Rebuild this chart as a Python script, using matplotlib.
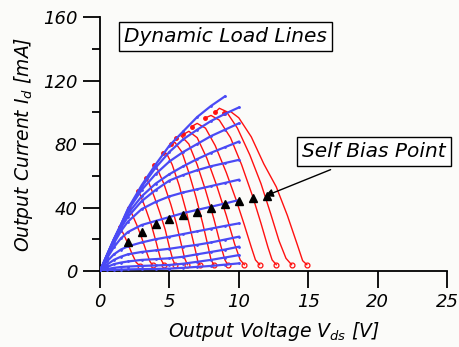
import numpy as np
import matplotlib
matplotlib.use('Agg')
import matplotlib.pyplot as plt

# font setup (handwriting-ish italic look)
plt.rcParams['font.family'] = ['DejaVu Sans']
plt.rcParams['font.style'] = 'italic'
plt.rcParams['mathtext.fontset'] = 'custom'
plt.rcParams['mathtext.it'] = 'DejaVu Sans:italic'
plt.rcParams['mathtext.rm'] = 'DejaVu Sans:italic'

# ---- data ----
# blue I-V curves, Id [mA] at shared Vds grid [V]
blue_v = [0, 0.5, 1, 1.5, 2, 3, 4, 5, 6, 7, 8, 9, 10]
blue_i = [
    [0, 10, 20, 29, 39, 54, 67, 79, 88, 97, 104, 110, np.nan],
    [0, 10, 20, 29, 38.5, 53, 65, 75, 83, 89, 94.5, 99, 103],
    [0, 10, 20, 29, 38, 51, 61, 69, 75, 80, 85, 89, 93],
    [0, 10, 19.5, 28, 36, 47, 55, 61, 66, 70.5, 74.5, 78, 81.5],
    [0, 9.5, 19, 27, 34, 44, 51, 57, 60.5, 63.5, 66, 68, 70],
    [0, 9, 17.5, 25, 31, 39, 43.5, 47, 49.5, 51.5, 53.5, 55.5, 57.5],
    [0, 8, 15, 20.5, 24.5, 29, 31.5, 34, 36.5, 38.5, 40.5, 42.5, 44.7],
    [0, 6, 10.5, 13.5, 15.5, 18, 20, 21.6, 23.3, 25, 26.7, 28.4, 30],
    [0, 4, 7, 9, 10.5, 12, 13, 14, 15.3, 16.5, 18, 19.8, 21.6],
    [0, 2.5, 4.3, 5.3, 6, 7, 7.5, 8, 9, 10.5, 12, 13.5, 15.3],
    [0, 1.2, 2, 2.5, 2.8, 3.2, 3.5, 3.8, 4.6, 5.8, 7, 8.5, 10],
    [0, 0.4, 0.7, 0.9, 1, 1.2, 1.3, 1.5, 2, 2.6, 3.2, 4, 4.8],
]

# red dynamic load lines (Vds, Id)
red_v = [
    [1.42, 1.6, 1.95, 2.3, 2.6, 2.9],
    [2.1, 2.3, 2.65, 3.0, 3.35, 3.6, 3.8],
    [2.75, 2.95, 3.3, 3.7, 4.05, 4.35, 4.6],
    [3.3, 3.5, 3.9, 4.3, 4.7, 5.0, 5.25, 5.4],
    [3.9, 4.1, 4.6, 5.1, 5.5, 5.85, 6.1, 6.3],
    [4.55, 4.8, 5.2, 5.7, 6.2, 6.6, 6.9, 7.05, 7.2],
    [5.1, 5.4, 5.9, 6.4, 6.9, 7.4, 7.8, 8.0, 8.2],
    [5.5, 5.8, 6.4, 7.0, 7.6, 8.2, 8.7, 9.0, 9.2],
    [6.0, 6.4, 7.0, 7.7, 8.4, 9.1, 9.7, 10.1, 10.4],
    [6.6, 7.0, 7.6, 8.3, 9.1, 9.8, 10.4, 10.9, 11.2, 11.5],
    [7.6, 8.0, 8.6, 9.4, 10.2, 11.0, 11.6, 12.1, 12.4, 12.7],
    [8.3, 8.6, 9.1, 9.9, 10.8, 11.6, 12.3, 12.9, 13.4, 13.8],
    [8.9, 9.4, 10.0, 10.9, 11.8, 12.7, 13.5, 14.2, 14.6, 14.9],
]
red_i = [
    [27.5, 25, 18.5, 11, 5.5, 3],
    [39.5, 36, 29, 21, 12, 6, 3.5],
    [50.5, 47, 39, 29, 18, 8, 4],
    [58.5, 56, 47, 37, 26, 15, 7, 4],
    [66.5, 65, 55, 42, 30, 17, 8, 4],
    [74.5, 74, 67, 54, 38, 23, 12, 6, 4],
    [80, 81, 75, 62, 47, 30, 15, 7, 4],
    [84, 85.5, 80, 67, 51, 33, 16, 7, 4],
    [86, 88, 84, 71, 54, 35, 17, 7, 4],
    [91, 93, 90, 79, 62, 45, 29, 15, 7, 4],
    [96.5, 98, 95, 84, 67, 47, 30, 15, 7, 4],
    [100, 102.5, 100.5, 90, 73, 55, 36, 19, 8, 4],
    [99.5, 100.5, 96.5, 84.5, 67.5, 53, 35, 17, 6.5, 4],
]

# self bias points
bias_v = [2, 3, 4, 5, 6, 7, 8, 9, 10, 11, 12]
bias_i = [18, 24.8, 29.6, 32.6, 35.3, 37.4, 40, 42, 44.3, 45.8, 47.2]

# ---- plot ----
fig = plt.figure(figsize=(4.6, 3.47), dpi=100)
fig.patch.set_facecolor('#fbfbf9')
ax = fig.add_axes([0.2174, 0.219, 0.7543, 0.732])
ax.set_facecolor('none')

for v, i in zip(red_v, red_i):
    ax.plot(v, i, color='#ff1010', lw=1.0, zorder=2)
    ax.plot(v[0], i[0], 'o', color='#ff1010', ms=2.5, zorder=2)
    ax.plot(v[-1], i[-1], 'o', mfc='none', mec='#ff1010', mew=0.9, ms=3.5, zorder=2)

for i in blue_i:
    ax.plot(blue_v, i, color='#4a4af5', lw=1.6, marker='.', ms=2, zorder=3)

ax.plot(bias_v, bias_i, '^', color='black', ms=6, zorder=4)

ax.set_xlim(0, 25)
ax.set_ylim(0, 160)
ax.set_xticks([0, 5, 10, 15, 20, 25])
ax.set_yticks([0, 40, 80, 120, 160])
ax.set_yticks([20, 60, 100, 140], minor=True)
ax.tick_params(which='major', length=12, width=1.3, direction='out', labelsize=13, pad=4)
ax.tick_params(which='minor', length=6, width=1.3, direction='out')
ax.spines['top'].set_visible(False)
ax.spines['right'].set_visible(False)
ax.spines['left'].set_linewidth(1.3)
ax.spines['bottom'].set_linewidth(1.3)

ax.set_xlabel('Output Voltage $V_{ds}$ [V]', fontsize=13.5, labelpad=6)
ax.set_ylabel('Output Current $I_d$ [mA]', fontsize=13.5, labelpad=6)

box = dict(boxstyle='square,pad=0.25', facecolor='white', edgecolor='black', lw=1.0)
ax.text(1.75, 148, 'Dynamic Load Lines', fontsize=14.5, bbox=box, va='center', ha='left')
ax.text(14.55, 75, 'Self Bias Point', fontsize=14.5, bbox=box, va='center', ha='left')
ax.annotate('', xy=(11.7, 46.5), xytext=(16.8, 64.5),
            arrowprops=dict(arrowstyle='-|>', color='black', lw=1.0, mutation_scale=12))

fig.savefig('out.png', dpi=100, facecolor=fig.get_facecolor())
